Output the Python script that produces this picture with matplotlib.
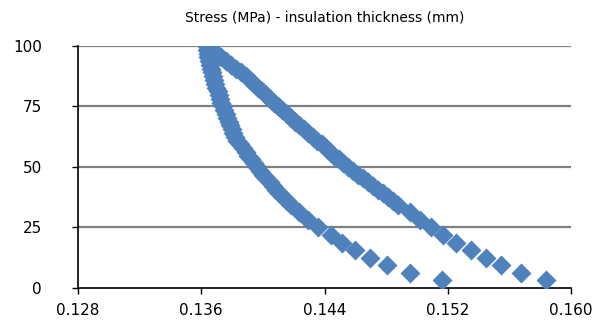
import matplotlib
matplotlib.use('Agg')
import matplotlib.pyplot as plt

# stress levels (MPa), finer steps on the upper part of the loop
stress = [100.0, 98.4375, 96.875, 95.3125, 93.75, 92.1875, 90.625, 89.0625,
          87.5, 85.9375, 84.375, 82.8125, 81.25, 79.6875, 78.125, 76.5625,
          75.0, 73.4375, 71.875, 70.3125, 68.75, 67.1875, 65.625, 64.0625,
          62.5, 60.9375, 59.375, 57.8125, 56.25, 54.6875, 53.125, 51.5625,
          50.0, 48.4375, 46.875, 45.3125, 43.75, 42.1875, 40.625, 39.0625,
          37.5, 35.9375, 34.375,
          31.25, 28.125, 25.0, 21.875, 18.75, 15.625, 12.5, 9.375, 6.25, 3.125]

# insulation thickness (mm), inner branch
thick_in = [0.13637, 0.13640, 0.13643, 0.13646, 0.13650, 0.13656, 0.13663, 0.13669,
            0.13676, 0.13682, 0.13689, 0.13698, 0.13708, 0.13714, 0.13721, 0.13731,
            0.13741, 0.13750, 0.13760, 0.13769, 0.13779, 0.13789, 0.13799, 0.13808,
            0.13818, 0.13834, 0.13851, 0.13870, 0.13890, 0.13906, 0.13922, 0.13941,
            0.13961, 0.13980, 0.14000, 0.14022, 0.14045, 0.14064, 0.14084, 0.14107,
            0.14130, 0.14156, 0.14182,
            0.14233, 0.14292, 0.14357, 0.14441, 0.14512, 0.14597, 0.14694, 0.14804,
            0.14953, 0.15161]

# insulation thickness (mm), outer branch
thick_out = [0.13637, 0.13670, 0.13702, 0.13731, 0.13760, 0.13792, 0.13825, 0.13857,
             0.13890, 0.13916, 0.13942, 0.13967, 0.13993, 0.14019, 0.14045, 0.14071,
             0.14097, 0.14126, 0.14156, 0.14182, 0.14208, 0.14237, 0.14266, 0.14295,
             0.14324, 0.14353, 0.14383, 0.14409, 0.14435, 0.14464, 0.14493, 0.14522,
             0.14551, 0.14583, 0.14616, 0.14648, 0.14681, 0.14713, 0.14746, 0.14778,
             0.14811, 0.14843, 0.14876,
             0.14953, 0.15018, 0.15094, 0.15169, 0.15256, 0.15354, 0.15446, 0.15548,
             0.15673, 0.15840]

x_ticks = [0.128, 0.136, 0.144, 0.152, 0.160]
y_ticks = [0, 25, 50, 75, 100]

fig = plt.figure(figsize=(5.94, 3.31), dpi=100)
ax = fig.add_axes([0.1313, 0.13, 0.83, 0.731])

# gridlines
for y in y_ticks[1:]:
    ax.axhline(y, color='#7f7f7f', lw=1.6, zorder=1)

blue = '#4f81bd'
ax.plot(thick_in, stress, ls='none', marker='D', ms=10, color=blue, mec='none', zorder=3)
ax.plot(thick_out, stress, ls='none', marker='D', ms=10, color=blue, mec='none', zorder=3)

ax.set_xlim(0.128, 0.160)
ax.set_ylim(0, 100)
ax.set_xticks(x_ticks)
ax.set_xticklabels(['%.3f' % v for v in x_ticks])
ax.set_yticks(y_ticks)

for s in ['top', 'right']:
    ax.spines[s].set_visible(False)
for s in ['left', 'bottom']:
    ax.spines[s].set_color('black')
    ax.spines[s].set_linewidth(1.2)
    ax.spines[s].set_zorder(2)

ax.tick_params(axis='x', direction='out', length=4, width=1, pad=7, labelsize=11)
ax.tick_params(axis='y', direction='out', length=4, width=1, pad=22, labelsize=11)

ax.set_title('Stress (MPa) - insulation thickness (mm)', fontsize=10, pad=18)

fig.savefig('out.png', dpi=100)
